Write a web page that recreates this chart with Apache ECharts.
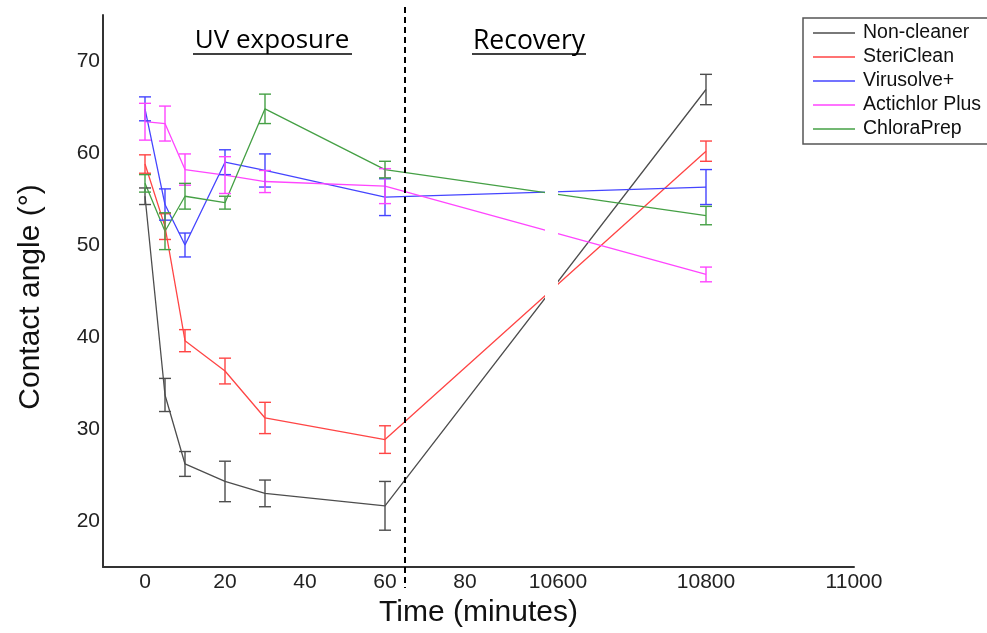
<!DOCTYPE html>
<html>
<head>
<meta charset="utf-8">
<script src="https://cdn.jsdelivr.net/npm/echarts@6/dist/echarts.min.js"></script>
<style>html,body{margin:0;padding:0;background:#fff;}#c{width:987px;height:633px;}</style>
</head>
<body>
<div id="c"></div>
<script>
// ---- data (time in minutes, contact angle in degrees) ----
const times = [0, 5, 10, 20, 30, 60, 10800];
const seriesNames = ['Non-cleaner', 'SteriClean', 'Virusolve+', 'Actichlor Plus', 'ChloraPrep'];
const nonCleaner    = [55.3, 33.7, 26.2, 24.3, 23.0, 21.65, 66.9];
const nonCleanerErr = [0.9, 1.8, 1.35, 2.2, 1.45, 2.65, 1.65];
const steriClean    = [58.8, 52.0, 39.6, 36.3, 31.2, 28.85, 60.2];
const steriCleanErr = [1.0, 1.4, 1.2, 1.4, 1.7, 1.5, 1.1];
const virusolve     = [64.8, 54.4, 50.0, 59.0, 58.1, 55.2, 56.3];
const virusolveErr  = [1.3, 1.7, 1.3, 1.35, 1.8, 2.0, 1.9];
const actichlor     = [63.4, 63.2, 58.2, 57.6, 56.9, 56.4, 46.8];
const actichlorErr  = [2.0, 1.9, 1.7, 2.0, 1.2, 1.9, 0.8];
const chloraPrep    = [56.7, 51.5, 55.3, 54.6, 64.8, 58.2, 53.2];
const chloraPrepErr = [0.95, 2.0, 1.4, 0.7, 1.6, 0.9, 1.0];
const xTickLabels = [0, 20, 40, 60, 80, 10600, 10800, 11000];
const yTicks = [20, 30, 40, 50, 60, 70];
const phaseDivider = 65; // minutes
const phaseLabels = ['UV exposure', 'Recovery'];

// ---- broken time axis: 0..100 min on the left piece, 10600..11000 on the right ----
const BREAK_LO = 100, BREAK_HI_DISP = 103.25, RIGHT_START = 10600, RIGHT_SCALE = 0.185;
function disp(t) { return t <= BREAK_LO ? t : BREAK_HI_DISP + (t - RIGHT_START) * RIGHT_SCALE; }
function undisp(d) { return d <= BREAK_LO ? d : Math.round(RIGHT_START + (d - BREAK_HI_DISP) / RIGHT_SCALE); }

const colors = ['#4d4d4d', '#ff4545', '#4545ff', '#ff45ff', '#45a045'];
const means = [nonCleaner, steriClean, virusolve, actichlor, chloraPrep];
const errs = [nonCleanerErr, steriCleanErr, virusolveErr, actichlorErr, chloraPrepErr];

const chart = echarts.init(document.getElementById('c'), null, {renderer: 'canvas'});
const FONT = 'Arial, "Liberation Sans", sans-serif';

const series = [];
seriesNames.forEach((name, i) => {
  series.push({
    name: name, type: 'line', symbol: 'none', showSymbol: false,
    data: times.map((t, k) => [disp(t), means[i][k]]),
    lineStyle: {color: colors[i], width: 1.3}, itemStyle: {color: colors[i]},
    z: 3, animation: false
  });
});
seriesNames.forEach((name, i) => {
  series.push({
    name: name, type: 'custom', z: 4, animation: false,
    data: times.map((t, k) => [disp(t), means[i][k], errs[i][k]]),
    encode: {x: 0, y: 1},
    renderItem: function (params, api) {
      const x = api.value(0), m = api.value(1), e = api.value(2);
      const top = api.coord([x, m + e]), bot = api.coord([x, m - e]);
      const hw = 6;
      const st = {stroke: colors[i], lineWidth: 1.4};
      return {type: 'group', children: [
        {type: 'line', shape: {x1: top[0], y1: top[1], x2: bot[0], y2: bot[1]}, style: st},
        {type: 'line', shape: {x1: top[0] - hw, y1: top[1], x2: top[0] + hw, y2: top[1]}, style: st},
        {type: 'line', shape: {x1: bot[0] - hw, y1: bot[1], x2: bot[0] + hw, y2: bot[1]}, style: st}
      ]};
    }
  });
});
// white break band across the lines
series.push({
  type: 'custom', z: 10, silent: true, animation: false,
  data: [[BREAK_LO, BREAK_HI_DISP]],
  renderItem: function (params, api) {
    const p1 = api.coord([api.value(0), 70]);
    const p2 = api.coord([api.value(1), 16]);
    return {type: 'rect', shape: {x: p1[0], y: p1[1], width: p2[0] - p1[0], height: p2[1] - p1[1]}, style: {fill: '#fff'}};
  }
});
// dashed phase divider
series.push({
  type: 'custom', z: 11, silent: true, animation: false, clip: false,
  data: [[disp(phaseDivider)]],
  renderItem: function (params, api) {
    const a = api.coord([api.value(0), 75]);
    const b = api.coord([api.value(0), 15]);
    return {type: 'line', shape: {x1: a[0], y1: a[1] - 8, x2: b[0], y2: b[1] + 21},
      style: {stroke: '#000', lineWidth: 2, lineDash: [6, 4]}};
  }
});

chart.setOption({
  backgroundColor: '#fff',
  animation: false,
  grid: {left: 103, right: 133, top: 15, bottom: 66},
  legend: {
    data: seriesNames, orient: 'vertical', left: 803, top: 18,
    padding: [5, 10, 5, 10], itemGap: 4, itemWidth: 42, itemHeight: 1.6, icon: 'rect',
    borderColor: '#555', borderWidth: 1.5, backgroundColor: '#fff',
    textStyle: {fontFamily: FONT, fontSize: 19.5, color: '#111', padding: [0, 0, 0, 3]}
  },
  xAxis: {
    type: 'value', min: -10.5, max: disp(11000),
    name: 'Time (minutes)', nameLocation: 'middle', nameGap: 29,
    nameTextStyle: {fontFamily: FONT, fontSize: 30, color: '#111'},
    axisLine: {onZero: false, lineStyle: {color: '#333', width: 2}},
    axisTick: {show: false}, splitLine: {show: false},
    axisLabel: {
      customValues: xTickLabels.map(disp),
      formatter: v => String(undisp(v)),
      fontFamily: FONT, fontSize: 21, color: '#222', margin: 5
    }
  },
  yAxis: {
    type: 'value', min: 15, max: 75,
    name: 'Contact angle (°)', nameLocation: 'middle', nameGap: 57,
    nameTextStyle: {fontFamily: FONT, fontSize: 30, color: '#111', padding: [0, 12, 0, 0]},
    axisLine: {show: true, onZero: false, lineStyle: {color: '#333', width: 2}},
    axisTick: {show: false}, splitLine: {show: false},
    axisLabel: {customValues: yTicks, fontFamily: FONT, fontSize: 21, color: '#222', margin: 3}
  },
  graphic: [
    {type: 'text', z: 100, x: 272, y: 41, style: {text: phaseLabels[0], font: '26px "Open Sans"', fill: '#000', textAlign: 'center', textVerticalAlign: 'middle'}},
    {type: 'line', z: 100, shape: {x1: 193, y1: 54, x2: 352, y2: 54}, style: {stroke: '#000', lineWidth: 1.5}},
    {type: 'text', z: 100, x: 529, y: 41, style: {text: phaseLabels[1], font: '26.5px "Open Sans"', fill: '#000', textAlign: 'center', textVerticalAlign: 'middle'}},
    {type: 'line', z: 100, shape: {x1: 472, y1: 54, x2: 586, y2: 54}, style: {stroke: '#000', lineWidth: 1.5}}
  ],
  series: series
});
</script>
</body>
</html>
